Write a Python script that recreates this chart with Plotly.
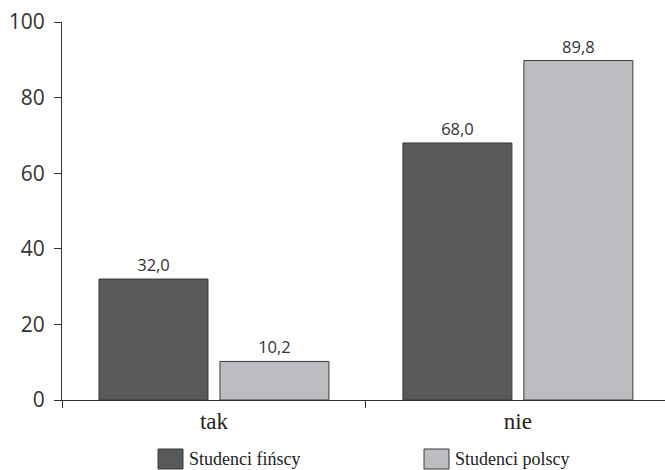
import plotly.graph_objects as go

categories = ["tak", "nie"]
series_names = ["Studenci fińscy", "Studenci polscy"]
fin_values = [32.0, 68.0]
pol_values = [10.2, 89.8]
y_ticks = [0, 20, 40, 60, 80, 100]

colors = ["#58595b", "#bcbdc1"]
serif = "Liberation Serif"
sans = "Open Sans"

def fmt(v):
    return f"{v:.1f}".replace(".", ",")

fig = go.Figure()
for name, vals, col in zip(series_names, [fin_values, pol_values], colors):
    fig.add_trace(go.Bar(
        x=categories, y=vals, name=name,
        marker=dict(color=col, line=dict(color="#3a3a3a", width=1)),
        text=[fmt(v) for v in vals], textposition="outside",
        textfont=dict(family=sans, size=16.5, color="#333333"),
        cliponaxis=False, showlegend=False,
    ))

PL, PT, PW, PH = 62, 22, 603, 378

fig.update_layout(
    width=665, height=470,
    margin=dict(l=PL, r=665 - PL - PW, t=PT, b=470 - PT - PH, autoexpand=False),
    paper_bgcolor="white", plot_bgcolor="white",
    barmode="group", bargap=0.204, bargroupgap=0.099,
    xaxis=dict(
        type="category", range=[-0.5, 1.484], tickson="boundaries",
        ticks="outside", ticklen=7, tickcolor="#333333",
        showline=True, linecolor="#333333", linewidth=1,
        showgrid=False, automargin=False,
        tickfont=dict(family=serif, size=23, color="#222222"),
    ),
    yaxis=dict(
        range=[0, 100], tickvals=y_ticks,
        ticks="outside", ticklen=7, tickcolor="#333333",
        showline=True, linecolor="#333333", linewidth=1,
        showgrid=False, zeroline=False, automargin=False,
        ticklabelstandoff=5,
        tickfont=dict(family=sans, size=21, color="#333333"),
    ),
    showlegend=False,
)

# manual legend (paper coordinates, below the plot area)
legend_x = [158, 424]
for lx, name, col in zip(legend_x, series_names, colors):
    fig.add_shape(type="rect", xref="paper", yref="paper",
                  x0=(lx - PL) / PW, x1=(lx + 25 - PL) / PW,
                  y0=-(469 - PT - PH) / PH, y1=-(449 - PT - PH) / PH,
                  fillcolor=col, line=dict(color="#3a3a3a", width=1))
    fig.add_annotation(xref="paper", yref="paper",
                       x=(lx + 29 - PL) / PW, y=-(459 - PT - PH) / PH,
                       xanchor="left", yanchor="middle", showarrow=False,
                       text=name, font=dict(family=serif, size=18, color="#222222"))

fig.write_html(
    "out.html",
    config={"displayModeBar": False},
    post_script="document.body.style.margin='0';document.body.style.overflow='hidden';",
)
